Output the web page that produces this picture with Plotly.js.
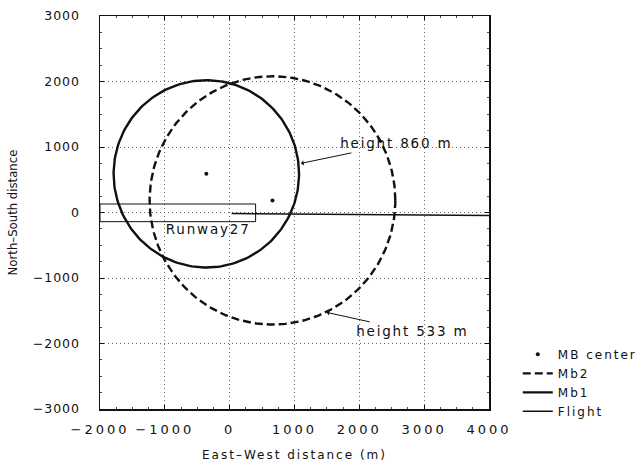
<!DOCTYPE html>
<html>
<head>
<meta charset="utf-8">
<script src="https://cdn.plot.ly/plotly-3.0.1.min.js"></script>
<style>
  html, body { margin: 0; padding: 0; background: #fff; }
  #plot { width: 639px; height: 468px; }
  /* wide, airy lettering of the plotter-style labels */
  g.xtick text { letter-spacing: 3px; }
  g.ytick text { letter-spacing: 1px; }
  text.xtitle { letter-spacing: 2px; }
  text.legendtext { letter-spacing: 2px; }
  g.annotation text { letter-spacing: 1.8px; }
</style>
</head>
<body>
<div id="plot"></div>
<script>
// Microburst outflow circles (centre and radius, metres) at two heights
const circleNames = ['Mb2', 'Mb1'];
const centerX = [660, -360];
const centerY = [185, 590];
const radius = [1895, 1430];

// Flight track across the field
const flightX = [30, 4000];
const flightY = [-15, -45];

// Runway 27 outline
const runwayX = [-2000, 400];
const runwayY = [-140, 130];

// Axis ticks
const xTickVals = [-2000, -1000, 0, 1000, 2000, 3000, 4000];
const xTickText = ['\u22122000', '\u22121000', '0', '1000', '2000', '3000', '4000'];
const yTickVals = [-3000, -2000, -1000, 0, 1000, 2000, 3000];
const yTickText = ['\u22123000', '\u22122000', '\u22121000', '0', '1000', '2000', '3000'];

// Labels and arrow tips for the two circle heights
const labelText = ['height 860 m', 'height 533 m'];
const labelTipX = [1100, 1497];
const labelTipY = [750, -1525];

// trace a full circle around a centre
function ring(cx, cy, r) {
  const xs = [], ys = [];
  for (let i = 0; i <= 240; i++) {
    const t = 2 * Math.PI * i / 240;
    xs.push(cx + r * Math.cos(t));
    ys.push(cy + r * Math.sin(t));
  }
  return { xs, ys };
}

const mb2 = ring(centerX[0], centerY[0], radius[0]);
const mb1 = ring(centerX[1], centerY[1], radius[1]);

const ink = '#111';

const traces = [
  {
    name: 'MB center', type: 'scatter', mode: 'markers',
    x: centerX, y: centerY,
    marker: { color: ink, size: 4 }
  },
  {
    name: circleNames[0], type: 'scatter', mode: 'lines',
    x: mb2.xs, y: mb2.ys,
    line: { color: ink, width: 2.4, dash: '8px,4px' }
  },
  {
    name: circleNames[1], type: 'scatter', mode: 'lines',
    x: mb1.xs, y: mb1.ys,
    line: { color: ink, width: 2.4 }
  },
  {
    name: 'Flight', type: 'scatter', mode: 'lines',
    x: flightX, y: flightY,
    line: { color: ink, width: 1.5 }
  }
];

const tickFont = { family: 'DejaVu Sans, sans-serif', size: 13, color: ink };

const layout = {
  width: 639, height: 468,
  margin: { l: 100, r: 150, t: 16, b: 59, autoexpand: false },
  paper_bgcolor: '#fff', plot_bgcolor: '#fff',
  showlegend: true,
  legend: {
    x: 1.074, y: 0.176, xanchor: 'left', yanchor: 'top',
    font: { family: 'DejaVu Sans, sans-serif', size: 12, color: ink },
    bgcolor: 'rgba(0,0,0,0)', itemwidth: 30, traceorder: 'normal'
  },
  xaxis: {
    range: [-2000, 4000],
    tickmode: 'array', tickvals: xTickVals, ticktext: xTickText,
    tickfont: tickFont,
    ticks: 'inside', ticklen: 4, tickcolor: ink,
    minor: { ticks: 'inside', ticklen: 2, dtick: 250, tickcolor: '#444', showgrid: false },
    showgrid: true, gridcolor: '#666', gridwidth: 1, griddash: '1px,3px',
    zeroline: false,
    showline: true, mirror: 'ticks', linecolor: ink, linewidth: 1.5,
    ticklabelstandoff: 8,
    title: {
      text: 'East\u2013West distance (m)',
      font: { family: 'DejaVu Sans, sans-serif', size: 12, color: ink },
      standoff: 14
    }
  },
  yaxis: {
    range: [-3000, 3000],
    tickmode: 'array', tickvals: yTickVals, ticktext: yTickText,
    tickfont: { family: 'DejaVu Sans, sans-serif', size: 12.5, color: ink },
    ticks: 'inside', ticklen: 4, tickcolor: ink,
    minor: { ticks: 'inside', ticklen: 2, dtick: 250, tickcolor: '#444', showgrid: false },
    showgrid: true, gridcolor: '#666', gridwidth: 1, griddash: '1px,3px',
    zeroline: false,
    showline: true, mirror: 'ticks', linecolor: ink, linewidth: 1.5,
    ticklabelstandoff: 16,
    title: {
      text: 'North\u2013South distance',
      font: { family: 'Liberation Sans Narrow, DejaVu Sans Condensed, sans-serif', size: 13, color: ink },
      standoff: 12
    }
  },
  shapes: [
    {
      type: 'rect', xref: 'x', yref: 'y',
      x0: runwayX[0], x1: runwayX[1], y0: runwayY[0], y1: runwayY[1],
      line: { color: ink, width: 1 }, fillcolor: 'rgba(0,0,0,0)'
    }
  ],
  annotations: [
    {
      text: 'Runway27', xref: 'x', yref: 'y', x: -330, y: -250,
      showarrow: false,
      font: { family: 'DejaVu Sans, sans-serif', size: 13.5, color: ink }
    },
    {
      text: labelText[0], xref: 'x', yref: 'y', x: labelTipX[0], y: labelTipY[0],
      ax: 96, ay: -20, showarrow: true,
      arrowhead: 1, arrowsize: 0.9, arrowwidth: 1, arrowcolor: ink, standoff: 0,
      font: { family: 'DejaVu Sans, sans-serif', size: 13.5, color: ink }
    },
    {
      text: labelText[1], xref: 'x', yref: 'y', x: labelTipX[1], y: labelTipY[1],
      ax: 86, ay: 19, showarrow: true,
      arrowhead: 1, arrowsize: 0.9, arrowwidth: 1, arrowcolor: ink, standoff: 0,
      font: { family: 'DejaVu Sans, sans-serif', size: 13.5, color: ink }
    }
  ]
};

Plotly.newPlot('plot', traces, layout, { displayModeBar: false, staticPlot: true });
</script>
</body>
</html>
